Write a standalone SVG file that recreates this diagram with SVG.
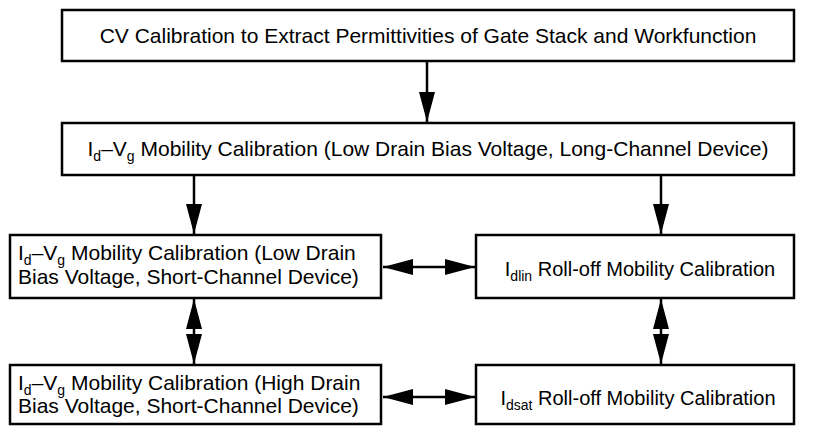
<svg xmlns="http://www.w3.org/2000/svg" width="835" height="426" viewBox="0 0 835 426">
<style>
.box{fill:#fff;stroke:#000;stroke-width:2.5}
.t{font-family:"Liberation Sans",Arial,Helvetica,sans-serif;font-size:21px;fill:#000}
.r{font-size:20px}
.c{text-anchor:middle}
.s{font-size:14px}
.ln{stroke:#000;stroke-width:2.5;fill:none}
</style>
<defs>
<marker id="ah" markerUnits="userSpaceOnUse" markerWidth="30" markerHeight="16" refX="30" refY="8" orient="auto-start-reverse" viewBox="0 0 30 16">
<path d="M0,0 L30,8 L0,16 z" fill="#000"/>
</marker>
</defs>
<g id="n1"><rect class="box" x="62" y="10" width="732" height="51"/>
<text class="t c" x="428" y="43">CV Calibration to Extract Permittivities of Gate Stack and Workfunction</text></g>
<g id="n2"><rect class="box" x="62" y="123" width="732" height="52"/>
<text class="t c" x="428" y="156">I<tspan class="s" dy="5">d</tspan><tspan dy="-5">–V</tspan><tspan class="s" dy="5">g</tspan><tspan dy="-5"> Mobility Calibration (Low Drain Bias Voltage, Long-Channel Device)</tspan></text></g>
<g id="n3"><rect class="box" x="10" y="235" width="371" height="63"/>
<text class="t" x="18" y="260">I<tspan class="s" dy="5">d</tspan><tspan dy="-5">–V</tspan><tspan class="s" dy="5">g</tspan><tspan dy="-5"> Mobility Calibration (Low Drain</tspan></text>
<text class="t" x="18" y="284">Bias Voltage, Short-Channel Device)</text></g>
<g id="n4"><rect class="box" x="476" y="235" width="318" height="63"/>
<text class="t r c" x="640" y="276">I<tspan class="s" dy="5">dlin</tspan><tspan dy="-5"> Roll-off Mobility Calibration</tspan></text></g>
<g id="n5"><rect class="box" x="10" y="365" width="371" height="59"/>
<text class="t" x="18" y="390">I<tspan class="s" dy="5">d</tspan><tspan dy="-5">–V</tspan><tspan class="s" dy="5">g</tspan><tspan dy="-5"> Mobility Calibration (High Drain</tspan></text>
<text class="t" x="18" y="413">Bias Voltage, Short-Channel Device)</text></g>
<g id="n6"><rect class="box" x="476" y="365" width="318" height="59"/>
<text class="t r c" x="638" y="405">I<tspan class="s" dy="5">dsat</tspan><tspan dy="-5"> Roll-off Mobility Calibration</tspan></text></g>
<g id="connectors">
<line class="ln" x1="427" y1="61" x2="427" y2="122" marker-end="url(#ah)"/>
<line class="ln" x1="194" y1="175" x2="194" y2="234" marker-end="url(#ah)"/>
<line class="ln" x1="661" y1="175" x2="661" y2="234" marker-end="url(#ah)"/>
<line class="ln" x1="383" y1="267" x2="475" y2="267" marker-start="url(#ah)" marker-end="url(#ah)"/>
<line class="ln" x1="383" y1="397" x2="475" y2="397" marker-start="url(#ah)" marker-end="url(#ah)"/>
<line class="ln" x1="194" y1="299" x2="194" y2="364" marker-start="url(#ah)" marker-end="url(#ah)"/>
<line class="ln" x1="661" y1="299" x2="661" y2="364" marker-start="url(#ah)" marker-end="url(#ah)"/>
</g>
</svg>
